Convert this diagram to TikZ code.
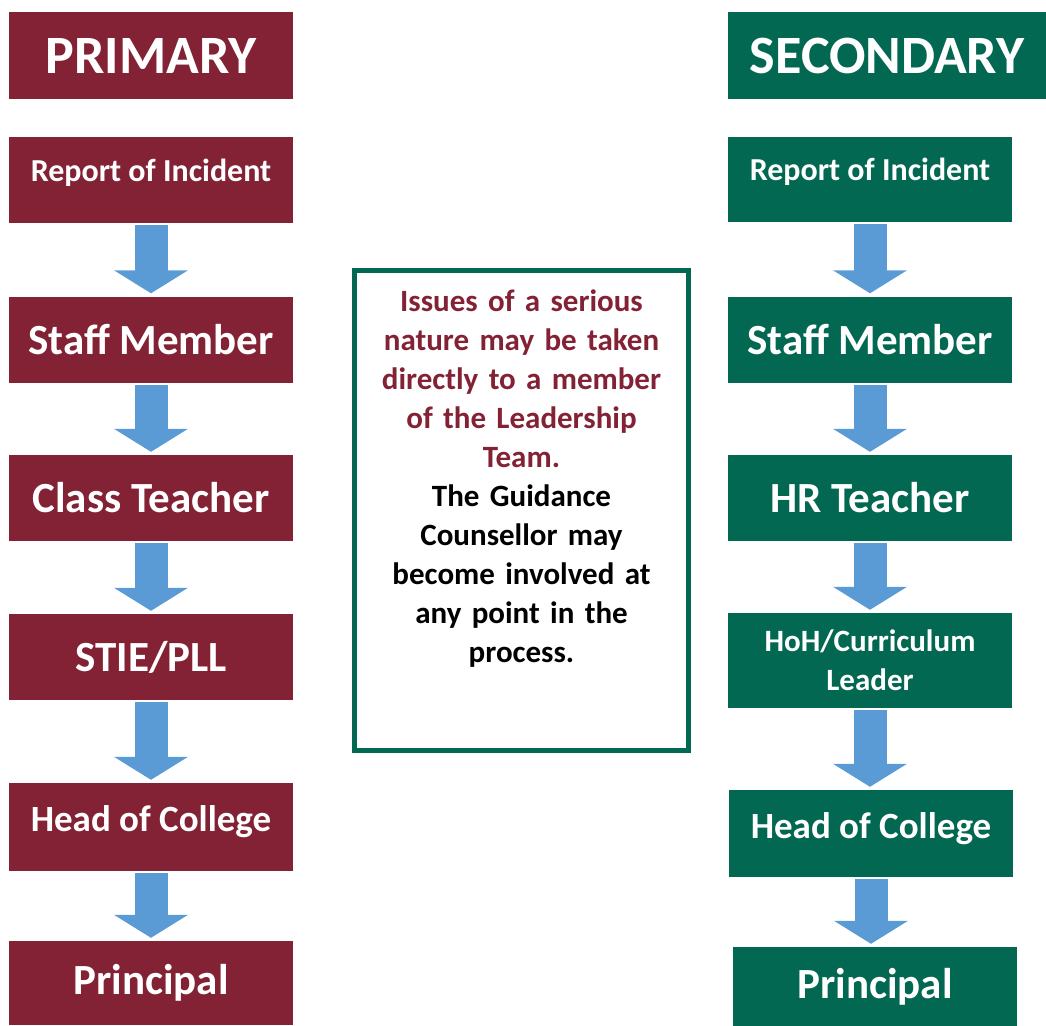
\documentclass[tikz,border=0pt]{standalone}
\usepackage{fontspec}
\setmainfont{Carlito}
\usetikzlibrary{arrows.meta}
\definecolor{primred}{HTML}{832235}
\definecolor{secgreen}{HTML}{036851}
\definecolor{flowblue}{HTML}{5B9BD5}

\begin{document}
\begin{tikzpicture}
[x=1pt,y=-1pt
,box/.style={rectangle,inner sep=0pt,text=white,align=center,minimum width=284pt,minimum height=86pt}
,pb/.style={box,fill=primred}
,sb/.style={box,fill=secgreen}
,huge/.style={font=\bfseries\fontsize{54}{60}\selectfont}
,big/.style={font=\bfseries\fontsize{43}{48}\selectfont}
,mid/.style={font=\bfseries\fontsize{37}{42}\selectfont}
,small/.style={font=\bfseries\fontsize{32}{38}\selectfont}
,notefont/.style={font=\bfseries\fontsize{31}{39}\selectfont}
,lift/.style={text depth=#1}
,fa/.style={draw=flowblue,line width=33pt,arrows={-Triangle[width=73pt,length=23pt]},shorten <=2pt,shorten >=3pt}
,notebox/.style={draw=secgreen,line width=5pt,minimum width=334pt,minimum height=480pt,inner sep=0pt}
]
\useasboundingbox (0,0) rectangle (1046,1025);
% primary
\node[pb,huge] (p0) at (151,55.5) {PRIMARY};
\node[pb,small,lift=20pt] (p1) at (151,180) {Report of Incident};
\node[pb,big] (p2) at (151,339.5) {Staff Member};
\node[pb,big] (p3) at (151,498) {Class Teacher};
\node[pb,big] (p4) at (151,657) {STIE/PLL};
\node[pb,mid,lift=16pt,minimum height=88pt] (p5) at (151,827) {Head of College};
\node[pb,big,minimum height=84pt] (p6) at (151,983) {Principal};
% secondary
\node[sb,huge,minimum width=318pt] (s0) at (887,55.5) {SECONDARY};
\node[sb,small,lift=20pt,minimum height=85pt] (s1) at (870,179.5) {Report of Incident};
\node[sb,big] (s2) at (870,339.5) {Staff Member};
\node[sb,big] (s3) at (870,498) {HR Teacher};
\node[sb,notefont,minimum height=95pt] (s4) at (870,660.5) {HoH/Curriculum\\Leader};
\node[sb,mid,lift=16pt,minimum height=87pt] (s5) at (871,833.5) {Head of College};
\node[sb,big,minimum height=80pt] (s6) at (875,987) {Principal};
% arrows
\foreach \a/\b in {p1/p2,p2/p3,p3/p4,p4/p5,p5/p6,s1/s2,s2/s3,s3/s4,s4/s5,s5/s6}
  \draw[fa] (\a.south) -- (\a.south |- \b.north);
% middle note
\node[notebox] (note) at (521.5,510.5) {};
\node[notefont,anchor=north,text width=330pt,align=center,inner sep=0pt] (notetext) at ([yshift=-22pt]note.north)
  {\color{primred}Issues of a serious\\nature may be taken\\directly to a member\\of the Leadership\\Team.\\
   \color{black}The Guidance\\Counsellor may\\become involved at\\any point in the\\process.};
\end{tikzpicture}
\end{document}
